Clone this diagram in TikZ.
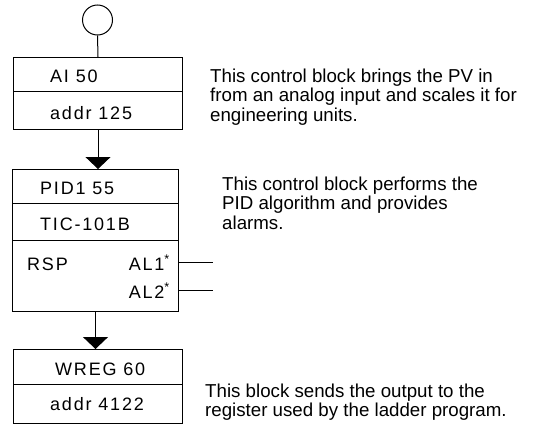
\documentclass[tikz,border=0pt]{standalone}
\usepackage{fontspec}
\setmainfont{Liberation Sans}
\newfontfamily\boxfont[LetterSpace=10]{Liberation Sans}
\usetikzlibrary{arrows.meta}

\begin{document}
\begin{tikzpicture}[x=1pt,y=1pt,yscale=-1,xscale=1,
		cell/.style={draw,line width=1pt,inner sep=0,anchor=north west},
		lbl/.style={inner sep=0,font=\boxfont\fontsize{18}{18}\selectfont},
		note/.style={inner sep=0,anchor=north west,align=left,font=\fontsize{18.7}{19.5}\selectfont},
		flow/.style={line width=1pt,-{Triangle[length=12pt,width=25pt]}}]
		\useasboundingbox (0,0) rectangle (538,431);
		
		\node[draw,circle,line width=1pt,minimum size=30pt,inner sep=0] (start) at (97.5,20) {};
		
		\node[cell,minimum width=169pt,minimum height=34pt] (ai) at (13,57) {};
		\node[cell,minimum width=169pt,minimum height=38pt] (addr1) at (13,91) {};
		\node[cell,minimum width=166pt,minimum height=34pt] (pid) at (12,169) {};
		\node[cell,minimum width=166pt,minimum height=37pt] (tic) at (12,203) {};
		\node[cell,minimum width=166pt,minimum height=71pt] (rsp) at (12,240) {};
		\node[cell,minimum width=169pt,minimum height=35pt] (wreg) at (13,349) {};
		\node[cell,minimum width=169pt,minimum height=39pt] (addr2) at (13,384) {};
		
		\node[lbl,anchor=base west] (aitxt) at (50,82) {AI 50};
		\node[lbl,anchor=base west] (addr1txt) at (50,119) {addr 125};
		\node[lbl,anchor=base west] (pidtxt) at (40,194) {PID1 55};
		\node[lbl,anchor=base west] (tictxt) at (40,230) {TIC-101B};
		\node[lbl,anchor=base west] (rsptxt) at (27,270) {RSP};
		\node[lbl,anchor=base east] (al1) at (170,270) {AL1\textsuperscript{*}};
		\node[lbl,anchor=base east] (al2) at (170,298) {AL2\textsuperscript{*}};
		\node[lbl,anchor=base west] (wregtxt) at (55,375) {WREG 60};
		\node[lbl,anchor=base west] (addr2txt) at (50,410) {addr 4122};
		
		\coordinate (alend) at (213,280);
		
		\draw[line width=1pt] (start.south) -- (ai.north);
		\draw[flow] (addr1.south) -- (addr1.south |- pid.north);
		\draw[flow] (rsp.south) -- (rsp.south |- wreg.north);
		\draw[line width=1pt] (rsp.east |- al1.center) -- (alend |- al1.center);
		\draw[line width=1pt] (rsp.east |- al2.center) -- (alend |- al2.center);
		
		\node[note] (note1) at (210,68.5) {This control block brings the PV in\\from an analog input and scales it for\\engineering units.};
		\node[note] (note2) at (222,176.5) {This control block performs the\\PID algorithm and provides\\alarms.};
		\node[note] (note3) at (205,383.5) {This block sends the output to the\\register used by the ladder program.};
		\end{tikzpicture}
\end{document}
